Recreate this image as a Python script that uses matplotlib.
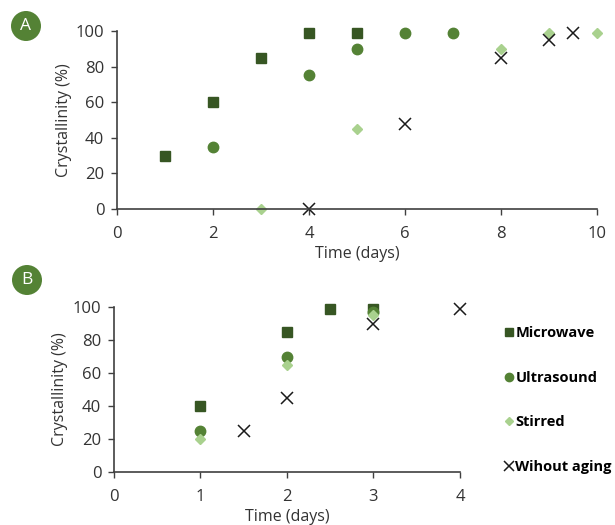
import numpy as np
import matplotlib.pyplot as plt
from matplotlib.patches import Ellipse

plt.rcParams['font.family'] = ['Open Sans', 'DejaVu Sans']

# panel A data
a_mw_x = [1, 2, 3, 4, 5]
a_mw_y = [30, 60, 85, 99, 99]
a_us_x = [2, 4, 5, 6, 7]
a_us_y = [35, 75, 90, 99, 99]
a_st_x = [3, 5, 8, 9, 10]
a_st_y = [0, 45, 90, 99, 99]
a_wo_x = [4, 6, 8, 9, 9.5]
a_wo_y = [0, 48, 85, 95, 99]

# panel B data
b_mw_x = [1, 2, 2.5, 3]
b_mw_y = [40, 85, 99, 99]
b_us_x = [1, 2, 3]
b_us_y = [25, 70, 97]
b_st_x = [1, 2, 3]
b_st_y = [20, 65, 95]
b_wo_x = [1.5, 2, 3, 4]
b_wo_y = [25, 45, 90, 99]

labels = ['Microwave', 'Ultrasound', 'Stirred', 'Wihout aging']
c_mw = '#375623'
c_us = '#548235'
c_st = '#A9D18E'
c_wo = '#1a1a1a'
axcol = '#404040'

fig = plt.figure(figsize=(6.15, 5.25), dpi=100)
axA = fig.add_axes([0.190, 0.602, 0.781, 0.339])
axB = fig.add_axes([0.185, 0.101, 0.563, 0.314])


def series(ax, mw, us, st, wo):
    h = []
    h += ax.plot(*mw, 's', color=c_mw, ms=7.5, ls='none', clip_on=False)
    h += ax.plot(*us, 'o', color=c_us, ms=7.5, ls='none', clip_on=False)
    h += ax.plot(*st, 'D', color=c_st, ms=5, ls='none', clip_on=False)
    h += ax.plot(*wo, 'x', color=c_wo, ms=8.5, mew=1.1, ls='none', clip_on=False)
    return h


def style(ax, xmax, xticks):
    ax.set_xlim(0, xmax)
    ax.set_ylim(0, 100)
    ax.set_xticks(xticks)
    ax.set_yticks([0, 20, 40, 60, 80, 100])
    for s in ['top', 'right']:
        ax.spines[s].set_visible(False)
    for s in ['left', 'bottom']:
        ax.spines[s].set_color(axcol)
        ax.spines[s].set_linewidth(1.2)
    ax.tick_params(colors=axcol, labelcolor='#333333', labelsize=12, length=4, width=1)
    ax.tick_params(axis='y', pad=5)
    ax.tick_params(axis='x', pad=8)
    ax.set_ylabel('Crystallinity (%)', fontsize=11.5, color='#333333', labelpad=3)
    ax.set_xlabel('Time (days)', fontsize=11.5, color='#333333', labelpad=3)


series(axA, (a_mw_x, a_mw_y), (a_us_x, a_us_y), (a_st_x, a_st_y), (a_wo_x, a_wo_y))
style(axA, 10, [0, 2, 4, 6, 8, 10])

hB = series(axB, (b_mw_x, b_mw_y), (b_us_x, b_us_y), (b_st_x, b_st_y), (b_wo_x, b_wo_y))
style(axB, 4, [0, 1, 2, 3, 4])

leg = fig.legend(hB, labels, loc='center left', bbox_to_anchor=(0.818, 0.238),
                 frameon=False, handletextpad=0.05, handlelength=0.8, markerscale=0.8,
                 labelspacing=2.1, borderpad=0.0, borderaxespad=0.0,
                 prop={'weight': 'bold', 'size': 10.5})

# panel badges
for xc, yc, txt in [(26, 26, 'A'), (27, 280, 'B')]:
    fx, fy = xc / 615, 1 - yc / 525
    fig.patches.append(Ellipse((fx, fy), 30 / 615, 30 / 525, transform=fig.transFigure,
                               facecolor=c_us, edgecolor='none'))
    fig.text(fx, fy, txt, color='white', ha='center', va='center', fontsize=12.5)

fig.savefig('out.png', dpi=100)
